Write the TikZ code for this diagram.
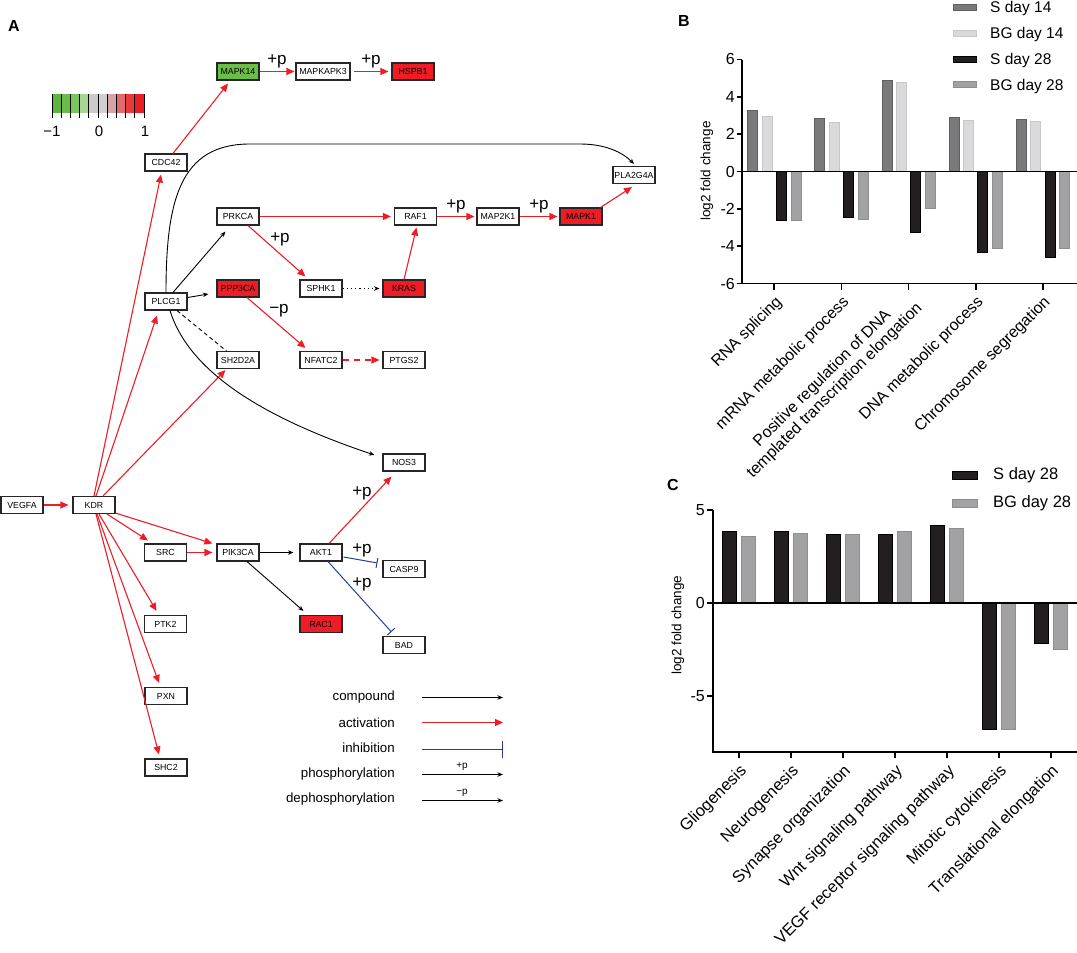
\documentclass[tikz,border=0pt]{standalone}
\usepackage{fontspec}
\setmainfont{Liberation Sans}
\usetikzlibrary{arrows.meta,calc}
\definecolor{actred}{HTML}{EE1C25}
\definecolor{inhblue}{HTML}{2A3F98}
\definecolor{upgreen}{HTML}{6ABD45}
\definecolor{cS14}{HTML}{7A7A7C}
\definecolor{cS14e}{HTML}{5F5F61}
\definecolor{cBG14}{HTML}{DADADC}
\definecolor{cBG14e}{HTML}{C8C8CA}
\definecolor{cS28}{HTML}{231F20}
\definecolor{cBG28}{HTML}{A2A2A5}
\definecolor{cBG28e}{HTML}{8E8E91}
\definecolor{cb0}{HTML}{5EB342}
\definecolor{cb1}{HTML}{6ABD45}
\definecolor{cb2}{HTML}{7CC45C}
\definecolor{cb3}{HTML}{A7D695}
\definecolor{cb4}{HTML}{CACACA}
\definecolor{cb5}{HTML}{CFCFCF}
\definecolor{cb6}{HTML}{D6A4A4}
\definecolor{cb7}{HTML}{E26A6A}
\definecolor{cb8}{HTML}{E9393E}
\definecolor{cb9}{HTML}{EE1C25}
\begin{document}
\begin{tikzpicture}[x=1pt,y=-1pt,
  gene/.style={draw=black!85,line width=1.1pt,fill=white,minimum width=42pt,minimum height=17pt,inner sep=0pt,font=\fontsize{8.8}{10}\selectfont},
  upreg/.style={gene,fill=actred},
  downreg/.style={gene,fill=upgreen},
  act/.style={draw=actred,line width=1.1pt,-{Triangle[length=8pt,width=7pt]}},
  comp/.style={draw=black,line width=0.9pt,-{Stealth[length=5.5pt,width=4.5pt]}},
  inh/.style={draw=inhblue,line width=1pt,-{Bar[width=10pt,line width=1pt]}},
  plab/.style={font=\fontsize{17}{17}\selectfont,inner sep=0pt},
  smallp/.style={font=\fontsize{10}{10}\selectfont,inner sep=0pt},
  legtext/.style={font=\fontsize{13.3}{15}\selectfont,anchor=east,inner sep=0pt},
  panel/.style={font=\bfseries\fontsize{16}{16}\selectfont,inner sep=0pt},
  axisline/.style={line width=1.8pt},
  ticklab/.style={font=\fontsize{16}{16}\selectfont,anchor=east,inner sep=0pt},
  cattext/.style={font=\fontsize{16}{17.5}\selectfont,anchor=east,rotate=45,inner sep=1pt,align=center},
  cattextC/.style={font=\fontsize{16.5}{18}\selectfont,anchor=east,rotate=45,inner sep=1pt},
  axtitle/.style={font=\fontsize{13.5}{14}\selectfont,rotate=90,inner sep=0pt},
  legB/.style={font=\fontsize{15.5}{16}\selectfont,anchor=west,inner sep=0pt},
  legC/.style={font=\fontsize{16.5}{17}\selectfont,anchor=west,inner sep=0pt},
  barS14/.style={fill=cS14,draw=cS14e,line width=0.7pt},
  barBG14/.style={fill=cBG14,draw=cBG14e,line width=0.7pt},
  barS28/.style={fill=cS28,draw=black,line width=0.7pt},
  barBG28/.style={fill=cBG28,draw=cBG28e,line width=0.7pt}
]
\useasboundingbox (0,0) rectangle (1077,953);

% ---------------- Panel A ----------------
\node[panel] (labA) at (14,26) {A};

% colour scale
\foreach \i in {0,...,9}{
  \fill[cb\i] ({52+9.2*\i},94) rectangle ({52+9.2*(\i+1)},112.5);
}
\foreach \i in {0,...,10}{
  \draw[line width=0.9pt] ({52+9.2*\i},94) -- ({52+9.2*\i},117.5);
}
\node[font=\fontsize{15}{15}\selectfont] (sm1) at (52,131) {−1};
\node[font=\fontsize{15}{15}\selectfont] (s0) at (99,131) {0};
\node[font=\fontsize{15}{15}\selectfont] (s1) at (145,131) {1};

% genes
\node[downreg] (MAPK14) at (238,71.5) {MAPK14};
\node[gene,minimum width=54pt] (MAPKAPK3) at (323,71.5) {MAPKAPK3};
\node[upreg] (HSPB1) at (413,71.5) {HSPB1};
\node[gene] (CDC42) at (166,162.5) {CDC42};
\node[gene] (PLA2G4A) at (634,175) {PLA2G4A};
\node[gene] (PRKCA) at (238,216.5) {PRKCA};
\node[gene] (RAF1) at (415.5,216.5) {RAF1};
\node[gene] (MAP2K1) at (498,216.5) {MAP2K1};
\node[upreg] (MAPK1) at (581,216.5) {MAPK1};
\node[gene] (PLCG1) at (166,301.5) {PLCG1};
\node[upreg] (PPP3CA) at (238,288.5) {PPP3CA};
\node[gene] (SPHK1) at (321,288.5) {SPHK1};
\node[upreg] (KRAS) at (404,288.5) {KRAS};
\node[gene] (SH2D2A) at (238,360) {SH2D2A};
\node[gene] (NFATC2) at (321,360) {NFATC2};
\node[gene] (PTGS2) at (404,360) {PTGS2};
\node[gene] (NOS3) at (404,462.5) {NOS3};
\node[gene] (VEGFA) at (22,505) {VEGFA};
\node[gene] (KDR) at (94,505) {KDR};
\node[gene] (SRC) at (165.5,552.5) {SRC};
\node[gene] (PIK3CA) at (238,552.5) {PIK3CA};
\node[gene] (AKT1) at (321,552.5) {AKT1};
\node[gene] (CASP9) at (404,569) {CASP9};
\node[gene] (PTK2) at (165.5,624) {PTK2};
\node[upreg] (RAC1) at (321,624) {RAC1};
\node[gene] (BAD) at (404,645) {BAD};
\node[gene] (PXN) at (166,696) {PXN};
\node[gene] (SHC2) at (166,767.5) {SHC2};

% activation (red)
\draw[act] ($(CDC42.north)+(7,0)$) -- ($(MAPK14.south)+(-10,3)$);
\draw[act] (MAPK14.east) -- ($(MAPKAPK3.west)+(-1,0)$);
\draw[act] ($(MAPKAPK3.east)+(3,0)$) -- ($(HSPB1.west)+(-3,0)$);
\draw[act] (KDR.north) -- ($(CDC42.south)+(-5,3)$);
\draw[act] ($(KDR.north)+(2,0)$) -- ($(PLCG1.south)+(-9,5)$);
\draw[act] ($(KDR.north)+(9,0)$) -- ($(SH2D2A.south west)+(9,1)$);
\draw[act] ($(KDR.south)+(13,0)$) -- ($(SRC.north west)+(4,-3)$);
\draw[act] ($(KDR.south east)+(0,-1)$) -- ($(PIK3CA.north west)+(-4,0)$);
\draw[act] ($(KDR.south)+(5,0)$) -- ($(PTK2.north)+(-9,-4)$);
\draw[act] ($(KDR.south)+(3,0)$) -- ($(PXN.north)+(-7,-4)$);
\draw[act] ($(KDR.south)+(2,0)$) -- ($(SHC2.north)+(-7,-4)$);
\draw[act] (VEGFA.east) -- ($(KDR.west)+(-4,0)$);
\draw[act] (SRC.east) -- ($(PIK3CA.west)+(-4,0)$);
\draw[act] (PRKCA.east) -- ($(RAF1.west)+(-3,0)$);
\draw[act] ($(PRKCA.south)+(10,0)$) -- ($(SPHK1.north west)+(6,-3)$);
\draw[act] (RAF1.east) -- ($(MAP2K1.west)+(-2,0)$);
\draw[act] (MAP2K1.east) -- ($(MAPK1.west)+(-2,0)$);
\draw[act] (KRAS.north) -- ($(RAF1.south)+(1,2)$);
\draw[act] ($(MAPK1.north east)+(-2,0)$) -- ($(PLA2G4A.south)+(-2,3)$);
\draw[act] ($(PPP3CA.south)+(9,0)$) -- ($(NFATC2.north west)+(6,-3)$);
\draw[act,dash pattern=on 6pt off 5pt] (NFATC2.east) -- ($(PTGS2.west)+(-3,0)$);
\draw[act] ($(AKT1.north)+(8,0)$) -- ($(NOS3.south west)+(9,5)$);

% compound (black)
\draw[comp] ($(PLCG1.north)+(7,0)$) -- ($(PRKCA.south west)+(9,6)$);
\draw[comp] ($(PLCG1.east)+(0,-4)$) -- ($(PPP3CA.west)+(-8,5.5)$);
\draw[black,line width=0.9pt,dash pattern=on 4pt off 3pt] ($(PLCG1.south)+(11,0)$) -- ($(SH2D2A.north west)+(10,0)$);
\draw[comp,dash pattern=on 1.2pt off 3pt] (SPHK1.east) -- ($(KRAS.west)+(-3,0)$);
\draw[comp] (PLCG1.north) .. controls (166,200) and (180,144) .. (250,144) -- (580,144) .. controls (605,144) and (622,152) .. ($(PLA2G4A.north)+(0,-2)$);
\draw[comp] ($(PLCG1.south)+(4,0)$) .. controls (190,375) and (270,420) .. ($(NOS3.west)+(-8,-7.5)$);
\draw[comp] (PIK3CA.east) -- ($(AKT1.west)+(-6,0)$);
\draw[comp] ($(PIK3CA.south)+(9,0)$) -- ($(RAC1.north west)+(4,-4)$);

% inhibition (blue)
\draw[inh] ($(AKT1.east)+(1,4.5)$) -- ($(CASP9.west)+(-5,-6)$);
\draw[inh] ($(AKT1.south)+(7,0)$) -- ($(BAD.north west)+(9,-4)$);

% +p / -p labels
\node[plab] (p1) at (277,61) {+p};
\node[plab] (p2) at (371,61) {+p};
\node[plab] (p3) at (456,206) {+p};
\node[plab] (p4) at (539,206) {+p};
\node[plab] (p5) at (280,239) {+p};
\node[plab] (m1) at (279,311) {−p};
\node[plab] (p6) at (362,493) {+p};
\node[plab] (p7) at (362,550) {+p};
\node[plab] (p8) at (362,584) {+p};

% legend
\node[legtext] (lt1) at (395,697.5) {compound};
\node[legtext] (lt2) at (395,722.5) {activation};
\node[legtext] (lt3) at (395,748) {inhibition};
\node[legtext] (lt4) at (395,774) {phosphorylation};
\node[legtext] (lt5) at (395,799.5) {dephosphorylation};
\coordinate (l1a) at (422,697.5); \coordinate (l1b) at (503,697.5);
\coordinate (l2a) at (422,722.5); \coordinate (l2b) at (503,722.5);
\coordinate (l3a) at (422,749);   \coordinate (l3b) at (503,749);
\coordinate (l4a) at (422,774.5); \coordinate (l4b) at (503,774.5);
\coordinate (l5a) at (422,800.5); \coordinate (l5b) at (503,800.5);
\draw[comp] (l1a) -- (l1b);
\draw[act] (l2a) -- (l2b);
\draw[draw=inhblue,line width=1pt,-{Bar[width=17pt,line width=1.2pt]}] (l3a) -- (l3b);
\draw[comp] (l4a) -- (l4b);
\draw[comp] (l5a) -- (l5b);
\node[smallp] (lp) at (462,767) {+p};
\node[smallp] (lm) at (462,792.5) {−p};

% ---------------- Panel B ----------------
\node[panel] (labB) at (684,21) {B};
\foreach \g/\a/\b/\c/\d in {0/3.27/2.96/-2.6/-2.6, 1/2.83/2.65/-2.45/-2.55, 2/4.86/4.75/-3.28/-1.95, 3/2.88/2.72/-4.35/-4.12, 4/2.82/2.7/-4.6/-4.12}{
  \pgfmathsetmacro\cx{774.3+67.1*\g}
  \draw[barS14] ({\cx-26.6},171.5) rectangle ({\cx-16.6},{171.5-18.67*(\a)});
  \draw[barBG14] ({\cx-12.2},171.5) rectangle ({\cx-2.2},{171.5-18.67*(\b)});
  \draw[barS28] ({\cx+2.2},171.5) rectangle ({\cx+12.2},{171.5-18.67*(\c)});
  \draw[barBG28] ({\cx+16.6},171.5) rectangle ({\cx+26.6},{171.5-18.67*(\d)});
  \draw[line width=1.8pt] (\cx,283.5) -- (\cx,289.5);
}
\draw[axisline] (742,59.5) -- (742,283.5) -- (1077,283.5);
\draw[axisline] (742,171.5) -- (1077,171.5);
\foreach \v in {6,4,2,0,-2,-4,-6}{
  \draw[line width=1.8pt] (736.5,{171.5-18.67*(\v)}) -- (742,{171.5-18.67*(\v)});
  \node[ticklab] at (735,{171.5-18.67*(\v)}) {\v};
}
\node[axtitle] (ytB) at (707,171) {log2 fold change};
\node[cattext] (cB1) at (780.3,299) {RNA splicing};
\node[cattext] (cB2) at (847.4,299) {mRNA metabolic process};
\node[cattext] (cB3) at (914.5,299) {Positive regulation of DNA\\templated transcription elongation};
\node[cattext] (cB4) at (981.6,299) {DNA metabolic process};
\node[cattext] (cB5) at (1048.7,299) {Chromosome segregation};
% legend B
\draw[barS14] (953.3,4.3) rectangle (976,10.6);
\draw[barBG14] (953.3,30.3) rectangle (976,36.6);
\draw[barS28] (953.3,56.3) rectangle (976,62.6);
\draw[barBG28] (953.3,81.5) rectangle (976,87.8);
\node[legB] (lgB1) at (990,8) {S day 14};
\node[legB] (lgB2) at (990,34) {BG day 14};
\node[legB] (lgB3) at (990,60) {S day 28};
\node[legB] (lgB4) at (990,86) {BG day 28};

% ---------------- Panel C ----------------
\node[panel] (labC) at (673,485) {C};
\foreach \g/\a/\b in {0/3.85/3.62, 1/3.85/3.76, 2/3.72/3.72, 3/3.72/3.85, 4/4.2/4.03, 5/-6.77/-6.77, 6/-2.15/-2.47}{
  \pgfmathsetmacro\cx{739+52*\g}
  \draw[barS28] ({\cx-16.4},603.3) rectangle ({\cx-2.4},{603.3-18.6*(\a)});
  \draw[barBG28] ({\cx+2.6},603.3) rectangle ({\cx+16.4},{603.3-18.6*(\b)});
  \draw[line width=1.8pt] (\cx,751.7) -- (\cx,757.5);
}
\draw[axisline] (713,509.5) -- (713,751.7) -- (1077,751.7);
\draw[axisline] (713,603.3) -- (1077,603.3);
\foreach \v in {5,0,-5}{
  \draw[line width=1.8pt] (707,{603.3-18.6*(\v)}) -- (713,{603.3-18.6*(\v)});
  \node[ticklab] at (705,{603.3-18.6*(\v)}) {\v};
}
\node[axtitle] (ytC) at (678,625) {log2 fold change};
\node[cattextC] (cC1) at (745,768) {Gliogenesis};
\node[cattextC] (cC2) at (797,768) {Neurogenesis};
\node[cattextC] (cC3) at (849,768) {Synapse organization};
\node[cattextC] (cC4) at (901,768) {Wnt signaling pathway};
\node[cattextC] (cC5) at (953,768) {VEGF receptor signaling pathway};
\node[cattextC] (cC6) at (1005,768) {Mitotic cytokinesis};
\node[cattextC] (cC7) at (1057,768) {Translational elongation};
% legend C
\draw[barS28] (952.7,471.7) rectangle (977.7,479);
\draw[barBG28] (952.7,499.7) rectangle (977.7,507);
\node[legC] (lgC1) at (993,475.5) {S day 28};
\node[legC] (lgC2) at (993,503.5) {BG day 28};
\end{tikzpicture}
\end{document}
